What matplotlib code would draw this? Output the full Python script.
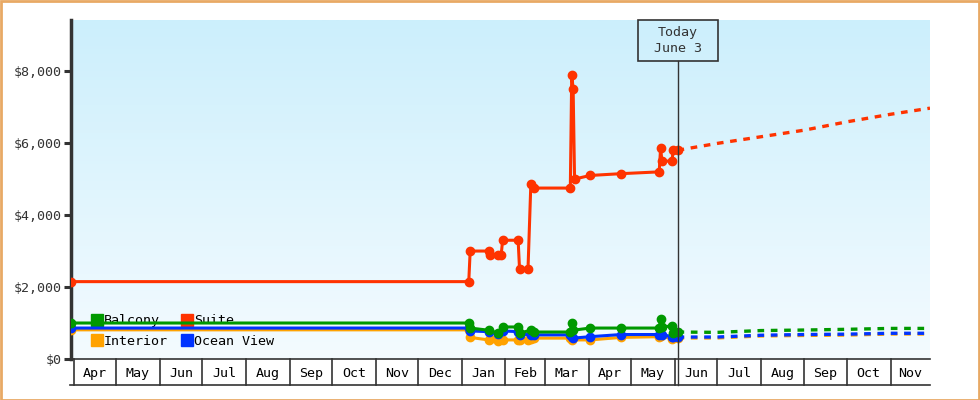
import matplotlib
matplotlib.use("Agg")
import matplotlib.pyplot as plt
import matplotlib.dates as mdates
from matplotlib.lines import Line2D
from matplotlib.patches import Rectangle
import numpy as np
import pandas as pd

# ---------------- data ----------------
suite_dates = ["2018-03-30", "2019-01-06", "2019-01-07", "2019-01-20", "2019-01-21", "2019-01-27",
               "2019-01-29", "2019-01-30", "2019-02-10", "2019-02-11", "2019-02-17", "2019-02-19",
               "2019-02-21", "2019-03-19", "2019-03-20", "2019-03-21", "2019-03-22", "2019-04-02",
               "2019-04-24", "2019-05-21", "2019-05-22", "2019-05-23", "2019-05-30", "2019-05-31",
               "2019-06-03"]
suite_vals = [2150, 2150, 3000, 3000, 2900, 2900, 2900, 3300, 3300, 2500, 2500, 4850,
              4750, 4750, 7900, 7500, 5000, 5100, 5150, 5200, 5850, 5500, 5500, 5800, 5800]

balcony_dates = ["2018-03-30", "2019-01-06", "2019-01-07", "2019-01-20", "2019-01-27", "2019-01-30",
                 "2019-02-10", "2019-02-11", "2019-02-19", "2019-02-21", "2019-03-19", "2019-03-20",
                 "2019-03-21", "2019-04-02", "2019-04-24", "2019-05-21", "2019-05-22", "2019-05-23",
                 "2019-05-30", "2019-05-31", "2019-06-03"]
balcony_vals = [1000, 1000, 860, 800, 720, 890, 890, 720, 800, 750, 750, 1000,
                800, 860, 860, 860, 1110, 890, 920, 720, 750]

ocean_dates = ["2018-03-30", "2019-01-06", "2019-01-07", "2019-01-20", "2019-01-27", "2019-01-30",
               "2019-02-10", "2019-02-11", "2019-02-19", "2019-02-21", "2019-03-19", "2019-03-20",
               "2019-03-21", "2019-04-02", "2019-04-24", "2019-05-21", "2019-05-22", "2019-05-23",
               "2019-05-30", "2019-05-31", "2019-06-03"]
ocean_vals = [860, 860, 780, 760, 700, 780, 760, 680, 680, 670, 670, 600,
              580, 620, 680, 680, 700, 680, 620, 600, 600]

interior_dates = ["2018-03-30", "2019-01-06", "2019-01-07", "2019-01-20", "2019-01-21", "2019-01-27",
                  "2019-01-30", "2019-02-10", "2019-02-11", "2019-02-17", "2019-02-19", "2019-02-21",
                  "2019-03-19", "2019-03-20", "2019-04-02", "2019-04-24", "2019-05-21", "2019-05-22",
                  "2019-05-30", "2019-06-03"]
interior_vals = [810, 810, 600, 530, 550, 500, 530, 530, 520, 530, 560, 580,
                 580, 530, 530, 600, 620, 640, 560, 570]

proj_dates = ["2019-06-03", "2019-07-01", "2019-08-01", "2019-09-01", "2019-10-01", "2019-11-01", "2019-11-29"]
suite_proj = [5800, 5990, 6175, 6360, 6590, 6800, 6970]
balcony_proj = [750, 740, 790, 805, 825, 850, 850]
ocean_proj = [610, 610, 660, 680, 690, 715, 715]
interior_proj = [585, 585, 640, 655, 665, 695, 695]

month_labels = ["Apr", "May", "Jun", "Jul", "Aug", "Sep", "Oct", "Nov", "Dec",
                "Jan", "Feb", "Mar", "Apr", "May", "Jun", "Jul", "Aug", "Sep", "Oct", "Nov"]
month_starts = pd.date_range("2018-04-01", "2019-12-01", freq="MS")

y_ticks = [0, 2000, 4000, 6000, 8000]
today = "2019-06-03"
today_label = "Today\nJune 3"

# ---------------- styling ----------------
C_SUITE = "#FF3300"
C_BALC = "#009900"
C_INT = "#FFA200"
C_OCEAN = "#0033FF"
DARK = "#333333"
FONT = "DejaVu Sans Mono"
FS = 9.6

W, H = 980, 400
fig = plt.figure(figsize=(W / 100, H / 100), dpi=100)
fig.patch.set_facecolor("white")
fig.add_artist(Rectangle((0.5 / W, 0.5 / H), 1 - 1.5 / W, 1 - 1.5 / H, transform=fig.transFigure,
                         fill=False, edgecolor="#E8A965", linewidth=2))

ax_l, ax_r, ax_t, ax_b = 71, 930, 20, 359
ax = fig.add_axes([ax_l / W, (H - ax_b) / H, (ax_r - ax_l) / W, (ax_b - ax_t) / H])
x0 = mdates.date2num(pd.Timestamp("2018-03-30"))
x1 = mdates.date2num(pd.Timestamp("2019-11-29"))
YMAX = 9420

# gradient background
grad = np.linspace(0, 1, 256).reshape(-1, 1)
top = np.array([204, 239, 252]) / 255
bot = np.array([244, 251, 255]) / 255
img = bot[None, None, :] * (1 - grad[..., None]) + top[None, None, :] * grad[..., None]
ax.imshow(img, extent=[x0, x1, 0, YMAX], origin="lower", aspect="auto", zorder=0)
ax.set_xlim(x0, x1)
ax.set_ylim(0, YMAX)

for s in ["top", "right"]:
    ax.spines[s].set_visible(False)
ax.spines["left"].set_color(DARK)
ax.spines["left"].set_linewidth(2.5)
ax.spines["bottom"].set_color(DARK)
ax.spines["bottom"].set_linewidth(1.2)

ax.set_yticks(y_ticks)
ax.set_yticklabels([f"${v:,}" for v in y_ticks], fontfamily=FONT, fontsize=FS, color=DARK)
ax.tick_params(axis="y", length=5, width=2.2, color=DARK, pad=2)
ax.set_xticks([])

# month boxes
row_h = 26 / (ax_b - ax_t)
trans = matplotlib.transforms.blended_transform_factory(ax.transData, ax.transAxes)
for d in month_starts:
    xd = mdates.date2num(d)
    if x0 <= xd <= x1:
        ax.plot([xd, xd], [0, -row_h], transform=trans, color=DARK, lw=1.2, clip_on=False, zorder=5)
ax.plot([0 - 1.5 / (ax_r - ax_l), 1], [-row_h, -row_h], transform=ax.transAxes, color=DARK, lw=1.2,
        clip_on=False, zorder=5)
for i, lab in enumerate(month_labels):
    a = mdates.date2num(month_starts[i])
    b = min(mdates.date2num(month_starts[i + 1]), x1)
    ax.text((a + b) / 2, -row_h / 2 - 0.004, lab, transform=trans, ha="center", va="center",
            fontfamily=FONT, fontsize=FS, color="black", clip_on=False)

# series
def draw(dates, vals, pdates, pvals, color, label, z):
    ax.plot(pd.to_datetime(dates), vals, color=color, lw=2.2, marker="o", ms=6, mec=color, mfc=color,
            zorder=z, label=label)
    ax.plot(pd.to_datetime(pdates), pvals, color=color, lw=2.4, linestyle=(0, (2, 2)),
            zorder=z, dash_capstyle="butt")

draw(interior_dates, interior_vals, proj_dates, interior_proj, C_INT, "Interior", 3)
draw(ocean_dates, ocean_vals, proj_dates, ocean_proj, C_OCEAN, "Ocean View", 4)
draw(balcony_dates, balcony_vals, proj_dates, balcony_proj, C_BALC, "Balcony", 5)
draw(suite_dates, suite_vals, proj_dates, suite_proj, C_SUITE, "Suite", 6)

# legend (under the lines)
handles = [Line2D([], [], marker="s", ls="none", ms=8, color=c) for c in [C_BALC, C_INT, C_SUITE, C_OCEAN]]
labels = ["Balcony", "Interior", "Suite", "Ocean View"]
leg = ax.legend(handles, labels, ncol=2, loc="lower left", bbox_to_anchor=(0.018, 0.018),
                frameon=False, prop={"family": FONT, "size": FS}, handlelength=0.8,
                handletextpad=0.1, columnspacing=1.05, labelspacing=0.55, borderaxespad=0)
leg.set_zorder(2)

# today marker
td = mdates.date2num(pd.Timestamp(today))
box_h = 41 / (ax_b - ax_t)
ax.plot([td, td], [-row_h, 1 - box_h], transform=trans, color=DARK, lw=1, clip_on=False, zorder=7)
half_w = 40 / ((ax_r - ax_l) / (x1 - x0))
ax.add_patch(Rectangle((td - half_w, 1 - box_h), 2 * half_w, box_h, transform=trans,
                       facecolor="none", edgecolor=DARK, lw=1.2, zorder=8, clip_on=False))
ax.text(td, 1 - box_h / 2, today_label, transform=trans, ha="center", va="center",
        fontfamily=FONT, fontsize=FS, color=DARK, linespacing=1.35, zorder=9)

fig.savefig("out.png", dpi=100)
